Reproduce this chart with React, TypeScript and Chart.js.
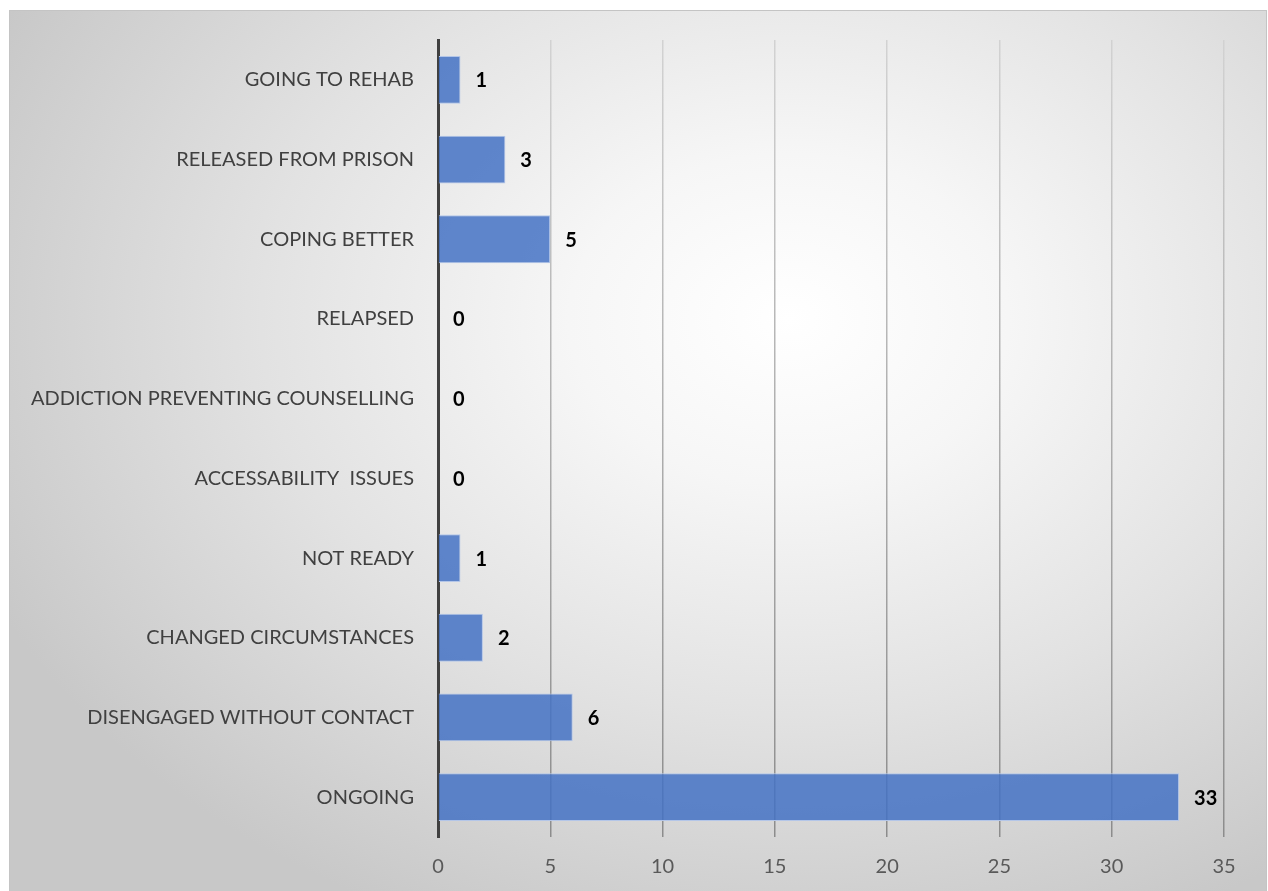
import React, { useEffect, useRef } from "react";
import { Chart, registerables } from "chart.js";

Chart.register(...registerables);

const categories = [
  "GOING TO REHAB",
  "RELEASED FROM PRISON",
  "COPING BETTER",
  "RELAPSED",
  "ADDICTION PREVENTING COUNSELLING",
  "ACCESSABILITY  ISSUES",
  "NOT READY",
  "CHANGED CIRCUMSTANCES",
  "DISENGAGED WITHOUT CONTACT",
  "ONGOING",
];
const values = [1, 3, 5, 0, 0, 0, 1, 2, 6, 33];
const axisMin = 0;
const axisMax = 35;
const axisStep = 5;

const FONT = "Lato, 'Noto Sans', sans-serif";

const valueLabels = {
  id: "valueLabels",
  afterDatasetsDraw(chart: any) {
    const ctx = chart.ctx;
    const meta = chart.getDatasetMeta(0);
    ctx.save();
    ctx.font = `bold 20px ${FONT}`;
    ctx.fillStyle = "#000000";
    ctx.textAlign = "left";
    ctx.textBaseline = "middle";
    meta.data.forEach((bar: any, i: number) => {
      ctx.fillText(String(values[i]), bar.x + 15, bar.y + 1);
    });
    ctx.restore();
  },
};

export default function App() {
  const ref = useRef<HTMLCanvasElement | null>(null);
  useEffect(() => {
    if (!ref.current) return;
    const chart = new Chart(ref.current, {
      type: "bar",
      data: {
        labels: categories,
        datasets: [
          {
            data: values,
            backgroundColor: "rgba(68,114,196,0.85)",
            borderColor: "#b4c6e8",
            borderWidth: 1,
            barPercentage: 0.6,
            categoryPercentage: 1,
          },
        ],
      },
      options: {
        indexAxis: "y",
        responsive: false,
        animation: false,
        layout: { padding: { top: 29, right: 43, left: 0, bottom: 0 } },
        plugins: {
          legend: { display: false },
          tooltip: { enabled: false },
        },
        scales: {
          x: {
            min: axisMin,
            max: axisMax,
            ticks: {
              stepSize: axisStep,
              color: "#595959",
              font: { family: FONT, size: 20 },
              padding: 18,
            },
            grid: {
              color: (c: any) => {
                if (c.tick && c.tick.value === 0) return "rgba(0,0,0,0)";
                const area = c.chart.chartArea;
                if (!area) return "#a6a6a6";
                const g = c.chart.ctx.createLinearGradient(0, area.top, 0, area.bottom);
                g.addColorStop(0, "#d2d2d2");
                g.addColorStop(0.4, "#b4b4b4");
                g.addColorStop(1, "#8c8c8c");
                return g;
              },
              lineWidth: 1.5,
              drawTicks: false,
            },
            border: { display: false },
            afterFit: (s: any) => {
              s.height = 55;
            },
          },
          y: {
            ticks: {
              color: "#404040",
              font: { family: FONT, size: 20 },
              padding: 24,
            },
            grid: { display: false, drawTicks: false },
            border: { display: true, color: "#404040", width: 3 },
            afterFit: (s: any) => {
              s.width = 429;
              s.paddingTop = 0;
              s.paddingBottom = 0;
            },
          },
        },
      },
      plugins: [valueLabels],
    });
    return () => chart.destroy();
  }, []);

  return (
    <div
      style={{
        position: "absolute",
        left: 9,
        top: 10,
        width: 1258,
        height: 881,
        boxSizing: "border-box",
        borderTop: "1px solid #c4c4c4",
        borderLeft: "1px solid #c4c4c4",
        borderRight: "1px solid #c4c4c4",
        background:
          "radial-gradient(ellipse 70% 75% at 62% 35%, #ffffff 0%, #f6f6f6 25%, #e2e2e2 60%, #c8c8c8 100%)",
      }}
    >
      <canvas ref={ref} width={1258} height={881} style={{ display: "block", position: "absolute", left: -1, top: 0 }} />
    </div>
  );
}
